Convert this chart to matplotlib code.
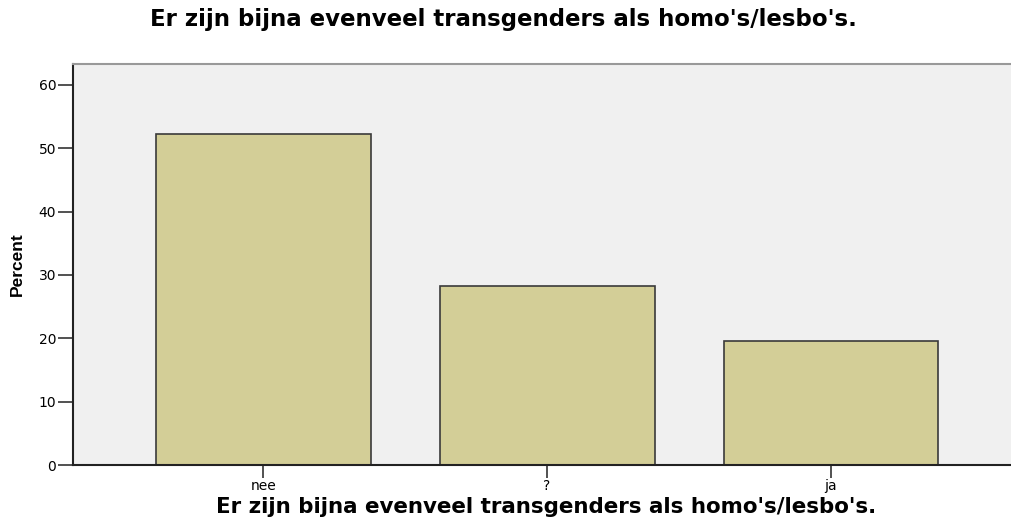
import matplotlib.pyplot as plt

categories = ["nee", "?", "ja"]
percent = [52.2, 28.3, 19.6]
yticks = [0, 10, 20, 30, 40, 50, 60]
title = "Er zijn bijna evenveel transgenders als homo's/lesbo's."

plt.rcParams['font.family'] = ['DejaVu Sans']

fig = plt.figure(figsize=(10.12, 5.18), dpi=100)
ax = fig.add_axes([0.0721, 0.1023, 0.937, 0.774])
ax.set_facecolor("#f0f0f0")

x = range(len(categories))
ax.bar(x, percent, width=0.757, color="#d3ce97", edgecolor="#3a3a3a", linewidth=1.2)

ax.set_xlim(-0.67, 2.67)
ax.set_ylim(0, 63.3)
ax.set_xticks(list(x))
ax.set_xticklabels(categories, fontsize=10)
ax.set_yticks(yticks)
ax.set_yticklabels([str(t) for t in yticks], fontsize=10)
ax.tick_params(axis="both", direction="out", length=9, width=1.2, color="#333333", pad=1)
ax.tick_params(axis="y", length=11)

for side in ["left", "bottom"]:
    ax.spines[side].set_color("#222222")
    ax.spines[side].set_linewidth(1.5)
ax.spines["top"].set_color("#999999")
ax.spines["top"].set_linewidth(1.5)
ax.spines["right"].set_visible(False)

ax.set_ylabel("Percent", fontsize=12.5, fontweight="bold",
              family=["Liberation Sans Narrow", "Liberation Sans", "DejaVu Sans"], labelpad=10)

fig.text(0.497, 0.963, title, ha="center", va="center", fontsize=16.5, fontweight="bold")
fig.text(0.54, 0.021, title, ha="center", va="center", fontsize=15.4, fontweight="bold")

fig.savefig("out.png", dpi=100)
